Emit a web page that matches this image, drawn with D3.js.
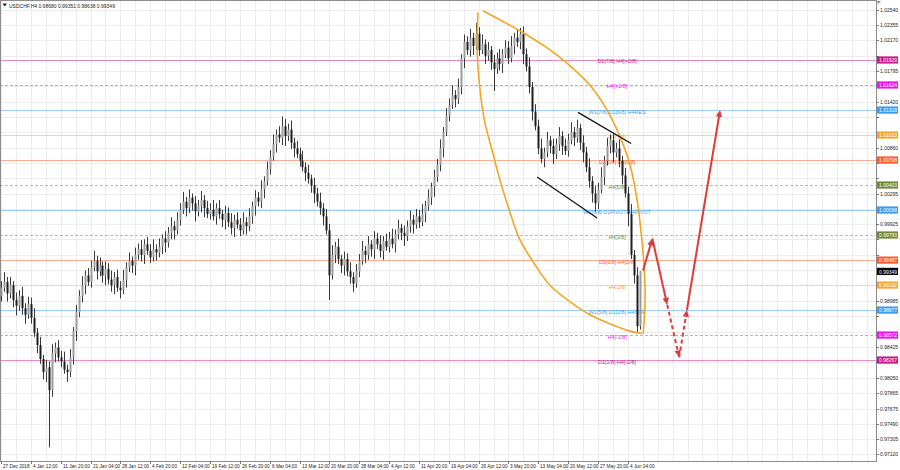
<!DOCTYPE html>
<html><head><meta charset="utf-8">
<script src="https://cdn.jsdelivr.net/npm/d3@7/dist/d3.min.js"></script>
<style>body{margin:0;background:#fff;} svg{display:block;font-family:"Liberation Sans",Arial,sans-serif;}</style>
</head><body><svg id="c" width="900" height="470"></svg>
<script>
// ---------------- DATA ----------------
const symbol = "USDCHF,H4";
const headerOHLC = ["0.98680", "0.99351", "0.98638", "0.99349"];
const firstOpen = 0.9905;
const closes = [
0.9915,0.9922,0.9908,0.9918,0.9900,0.9893,0.9905,0.9890,0.9882,0.9895,
0.9878,0.9860,0.9845,0.9828,0.9812,0.9818,0.9790,0.9835,0.9842,0.9830,
0.9825,0.9815,0.9812,0.9830,0.9862,0.9885,0.9905,0.9918,0.9930,0.9922,
0.9940,0.9948,0.9935,0.9942,0.9930,0.9938,0.9925,0.9918,0.9928,0.9915,
0.9912,0.9925,0.9940,0.9948,0.9942,0.9955,0.9962,0.9955,0.9968,0.9960,
0.9952,0.9962,0.9958,0.9965,0.9975,0.9970,0.9982,0.9990,0.9985,0.9998,
1.0010,1.0020,1.0012,1.0025,1.0018,1.0008,1.0015,1.0022,1.0012,1.0005,
1.0010,1.0002,1.0012,1.0005,0.9998,1.0006,0.9995,0.9988,0.9998,0.9992,
0.9985,0.9995,0.9990,1.0002,1.0015,1.0025,1.0020,1.0035,1.0045,1.0060,
1.0075,1.0090,1.0102,1.0098,1.0112,1.0100,1.0108,1.0092,1.0085,1.0078,
1.0070,1.0062,1.0055,1.0048,1.0040,1.0030,1.0020,1.0012,1.0002,0.9985,
0.9930,0.9955,0.9965,0.9950,0.9942,0.9950,0.9935,0.9928,0.9920,0.9935,
0.9948,0.9960,0.9955,0.9968,0.9962,0.9975,0.9968,0.9960,0.9972,0.9965,
0.9975,0.9968,0.9980,0.9988,0.9982,0.9978,0.9990,0.9998,0.9992,1.0002,
0.9995,1.0005,1.0015,1.0025,1.0038,1.0050,1.0065,1.0085,1.0105,1.0125,
1.0138,1.0150,1.0145,1.0160,1.0195,1.0215,1.0205,1.0220,1.0210,1.0225,
1.0205,1.0212,1.0198,1.0205,1.0190,1.0182,1.0195,1.0188,1.0200,1.0208,
1.0195,1.0210,1.0220,1.0215,1.0225,1.0200,1.0185,1.0160,1.0130,1.0112,
1.0085,1.0072,1.0080,1.0095,1.0088,1.0078,1.0090,1.0100,1.0088,1.0082,
1.0095,1.0105,1.0098,1.0110,1.0092,1.0080,1.0062,1.0045,1.0030,1.0018,
1.0035,1.0050,1.0070,1.0088,1.0095,1.0080,1.0085,1.0070,1.0052,1.0030,
1.0005,0.9955,0.9930,0.9868,0.99349];
const highs = [
0.9923,0.9934,0.9928,0.9928,0.9923,0.9909,0.9912,0.9916,0.9896,0.9904,
0.9903,0.9890,0.9866,0.9855,0.9833,0.9827,0.9825,0.9846,0.9848,0.9851,
0.9838,0.9837,0.9821,0.9840,0.9867,0.9894,0.9912,0.9929,0.9936,0.9939,
0.9948,0.9960,0.9954,0.9952,0.9947,0.9947,0.9945,0.9936,0.9934,0.9937,
0.9923,0.9937,0.9946,0.9958,0.9953,0.9964,0.9969,0.9973,0.9974,0.9977,
0.9968,0.9974,0.9968,0.9975,0.9980,0.9984,0.9989,1.0001,0.9996,1.0007,
1.0018,1.0032,1.0026,1.0035,1.0030,1.0027,1.0022,1.0033,1.0028,1.0021,
1.0018,1.0022,1.0018,1.0022,1.0010,1.0015,1.0013,1.0006,1.0004,1.0007,
1.0000,1.0007,1.0001,1.0012,1.0020,1.0034,1.0032,1.0046,1.0051,1.0069,
1.0083,1.0102,1.0108,1.0112,1.0124,1.0121,1.0115,1.0119,1.0098,1.0094,
1.0086,1.0082,1.0068,1.0065,1.0053,1.0049,1.0037,1.0031,1.0018,1.0011,
0.9993,0.9967,0.9971,0.9975,0.9955,0.9959,0.9957,0.9946,0.9934,0.9944,
0.9956,0.9972,0.9966,0.9978,0.9973,0.9984,0.9982,0.9979,0.9978,0.9981,
0.9983,0.9987,0.9986,0.9998,0.9993,0.9991,0.9997,1.0009,1.0004,1.0011,
1.0010,1.0017,1.0021,1.0035,1.0043,1.0059,1.0072,1.0096,1.0111,1.0134,
1.0146,1.0162,1.0156,1.0170,1.0200,1.0224,1.0222,1.0231,1.0226,1.0238,
1.0233,1.0224,1.0218,1.0215,1.0210,1.0199,1.0202,1.0206,1.0206,1.0217,
1.0216,1.0222,1.0226,1.0230,1.0232,1.0234,1.0207,1.0196,1.0166,1.0139,
1.0120,1.0097,1.0086,1.0105,1.0100,1.0097,1.0097,1.0111,1.0106,1.0097,
1.0103,1.0117,1.0111,1.0120,1.0115,1.0101,1.0087,1.0073,1.0051,1.0039,
1.0043,1.0062,1.0076,1.0098,1.0102,1.0104,1.0092,1.0096,1.0076,1.0061,
1.0038,1.0017,0.9961,0.9940,0.99351];
const lows = [
0.9898,0.9910,0.9898,0.9902,0.9891,0.9881,0.9887,0.9882,0.9871,0.9877,
0.9871,0.9855,0.9835,0.9822,0.9803,0.9800,0.9720,0.9782,0.9824,0.9825,
0.9818,0.9810,0.9800,0.9806,0.9821,0.9850,0.9879,0.9897,0.9907,0.9917,
0.9915,0.9935,0.9925,0.9929,0.9921,0.9918,0.9919,0.9910,0.9907,0.9910,
0.9902,0.9907,0.9915,0.9934,0.9933,0.9930,0.9949,0.9947,0.9944,0.9955,
0.9945,0.9947,0.9948,0.9952,0.9956,0.9958,0.9964,0.9974,0.9974,0.9980,
0.9991,1.0005,1.0002,1.0006,1.0009,0.9996,1.0002,1.0007,1.0001,1.0000,
0.9998,0.9997,0.9992,0.9999,0.9989,0.9986,0.9989,0.9980,0.9977,0.9987,
0.9978,0.9980,0.9980,0.9984,0.9993,1.0003,1.0014,1.0012,1.0024,1.0040,
1.0053,1.0070,1.0080,1.0092,1.0089,1.0088,1.0094,1.0084,1.0074,1.0073,
1.0063,1.0057,1.0045,1.0042,1.0031,1.0018,1.0014,1.0004,0.9991,0.9980,
0.9900,0.9925,0.9945,0.9944,0.9933,0.9930,0.9929,0.9920,0.9910,0.9915,
0.9928,0.9943,0.9945,0.9949,0.9953,0.9950,0.9962,0.9952,0.9949,0.9960,
0.9958,0.9963,0.9958,0.9974,0.9973,0.9966,0.9972,0.9982,0.9981,0.9987,
0.9988,0.9990,0.9995,1.0009,1.0016,1.0026,1.0044,1.0057,1.0074,1.0100,
1.0118,1.0133,1.0135,1.0139,1.0151,1.0183,1.0199,1.0197,1.0199,1.0205,
1.0198,1.0200,1.0188,1.0192,1.0181,1.0155,1.0176,1.0180,1.0177,1.0195,
1.0188,1.0190,1.0200,1.0209,1.0206,1.0188,1.0179,1.0152,1.0119,1.0107,
1.0078,1.0067,1.0062,1.0074,1.0079,1.0066,1.0072,1.0082,1.0077,1.0077,
1.0075,1.0090,1.0088,1.0092,1.0083,1.0068,1.0056,1.0037,1.0019,1.0008,
1.0011,1.0030,1.0040,1.0064,1.0079,1.0068,1.0074,1.0062,1.0041,1.0025,
0.9990,0.9950,0.9920,0.9860,0.98638];

const timeLabels = ["27 Dec 2018","4 Jan 12:00","11 Jan 20:00","21 Jan 04:00","28 Jan 12:00","4 Feb 20:00",
  "12 Feb 04:00","19 Feb 12:00","26 Feb 20:00","6 Mar 04:00","13 Mar 12:00","20 Mar 20:00","28 Mar 04:00",
  "4 Apr 12:00","11 Apr 20:00","19 Apr 04:00","26 Apr 12:00","3 May 20:00","13 May 04:00","20 May 12:00",
  "27 May 20:00","4 Jun 04:00"];
const candlesPerLabel = 10;

const priceTicks = [1.02540,1.02355,1.02170,1.01980,1.01795,1.01610,1.01420,1.01230,1.01045,1.00860,
  1.00675,1.00485,1.00295,1.00110,0.99925,0.99740,0.99550,0.99365,0.99180,0.98985,0.98800,0.98615,
  0.98425,0.98240,0.98050,0.97865,0.97675,0.97490,0.97305,0.97120];

const levelValues = [1.01929,1.01624,1.01318,1.01013,1.00708,1.00403,1.00098,0.99793,0.99487,0.99182,0.98877,0.98572,0.98267];
const levelNames = ["D1[7/8] H4[+2/8]","H4[+1/8]","W1[7/8] D1[6/8] H4RES","H4[7/8]","D1[5/8] H4[6/8]","H4[5/8]",
  "W1[6/8] D1PIVOT H4PIVOT","H4[3/8]","D1[3/8] H4[2/8]","H4[1/8]","W1[5/8] D1[2/8] H4SUP","H4[-1/8]","D1[1/8] H4[-2/8]"];
const levelColors = ["#c8188a","#f010f0","#3a9cf2","#f3a531","#ff5a28","#6f8a35","#3a9cf2","#6f8a35","#ff5a28","#f3a531","#3a9cf2","#f010f0","#c8188a"];
const levelDashed = [false,true,false,false,false,true,false,true,false,true,false,true,false];
const levelLabelPos = 206.4;
const currentPrice = 0.99349;

const ellipseLeft = [[159.8,1.0251],[159.5,1.0217],[159.8,1.0184],[161.8,1.0122],[164.5,1.0083],[167.2,1.0046],
  [170.5,1.0007],[173.9,0.9973],[178.9,0.9943],[183.9,0.9918],[190.6,0.9898],[197.3,0.9882],[204.0,0.9871],[210.7,0.9862],[214.7,0.9859]];
const ellipseRight = [[161.5,1.0253],[174.5,1.0227],[183.2,1.0207],[189.6,1.0189],[197.3,1.0162],[203.0,1.0132],
  [207.4,1.0099],[210.7,1.0065],[213.1,1.0022],[214.7,0.9973],[215.7,0.9924],[215.7,0.9888],[215.1,0.9859]];
const channelUpper = [[193.3,1.0129],[211.1,1.0091]];
const channelLower = [[179.6,1.0050],[199.7,1.0000]];
const forecast = [[215.1,0.9936],[218.2,0.9975],[223.2,0.9894],[227.2,0.9830],[229.8,0.9888],[240.9,1.0132]];
const forecastDashed = [false,false,true,true,false];

// ---------------- DRAW ----------------
const plotR = 876, plotB = 461;
const svg = d3.select("#c");
const x = d3.scaleLinear().domain([0,100]).range([1,299.5]);
const y = d3.scaleLinear().domain([0.97035,1.02661]).range([plotB,0]);

const grid = svg.append("g");
const maxIdx = x.invert(plotR);
for (let i = 0; i <= maxIdx; i += candlesPerLabel/2) {
  const gx = Math.round(x(i)) + 0.5;
  grid.append("line").attr("x1",gx).attr("x2",gx).attr("y1",0).attr("y2",plotB).attr("stroke","#ececec");
}
priceTicks.forEach(p=>{
  const gy = Math.round(y(p)) + 0.5;
  grid.append("line").attr("x1",0).attr("x2",plotR).attr("y1",gy).attr("y2",gy).attr("stroke","#ececec");
});

// level lines
const lv = svg.append("g");
levelValues.forEach((v,k)=>{
  const ly = Math.round(y(v)) + 0.5;
  lv.append("line").attr("x1",0).attr("x2",plotR).attr("y1",ly).attr("y2",ly)
    .attr("stroke",levelColors[k]).attr("stroke-opacity",0.5).attr("stroke-width",1)
    .attr("stroke-dasharray",levelDashed[k]?"3,2":null);
});

// candles
const cg = svg.append("g");
closes.forEach((c,i)=>{
  const o = i ? closes[i-1] : firstOpen;
  const cx = Math.round(x(i)) + 0.5;
  cg.append("line").attr("x1",cx).attr("x2",cx).attr("y1",y(highs[i])).attr("y2",y(lows[i]))
    .attr("stroke","#3a3a3a").attr("stroke-width",1);
  const top = y(Math.max(o,c)), bot = y(Math.min(o,c));
  cg.append("rect").attr("x",cx-1).attr("y",top).attr("width",2).attr("height",Math.max(0.8,bot-top))
    .attr("fill", c>=o ? "#9c9c9c" : "#1e1e1e");
});

// level labels on chart
levelValues.forEach((v,k)=>{
  lv.append("text").attr("x",x(levelLabelPos)).attr("y",y(v)+1.5).attr("text-anchor","middle")
    .attr("dominant-baseline","central").attr("font-size",5.4).attr("fill",levelColors[k]).text(levelNames[k]);
});

// ellipse
const curve = d3.line().x(d=>x(d[0])).y(d=>y(d[1])).curve(d3.curveCatmullRom.alpha(0.5));
[ellipseLeft, ellipseRight].forEach(pts=>{
  svg.append("path").attr("d",curve(pts)).attr("fill","none").attr("stroke","#f2a623").attr("stroke-width",1.6);
});

// channel
const straight = d3.line().x(d=>x(d[0])).y(d=>y(d[1]));
[channelUpper, channelLower].forEach(pts=>{
  svg.append("path").attr("d",straight(pts)).attr("fill","none").attr("stroke","#111").attr("stroke-width",1.3);
});

// forecast arrows
const red = "#e03a3a";
for (let s = 0; s < forecast.length-1; s++) {
  const a = [x(forecast[s][0]), y(forecast[s][1])], b = [x(forecast[s+1][0]), y(forecast[s+1][1])];
  const dx = b[0]-a[0], dy = b[1]-a[1], len = Math.hypot(dx,dy), ux = dx/len, uy = dy/len;
  const hl = 7, hw = 3.2;
  const e = [b[0]-ux*hl*0.8, b[1]-uy*hl*0.8];
  svg.append("line").attr("x1",a[0]).attr("y1",a[1]).attr("x2",e[0]).attr("y2",e[1])
    .attr("stroke",red).attr("stroke-width",2).attr("stroke-dasharray",forecastDashed[s]?"4,3":null);
  const bx = b[0]-ux*hl, by = b[1]-uy*hl;
  svg.append("path").attr("d",`M${b[0]},${b[1]}L${bx-uy*hw},${by+ux*hw}L${bx+uy*hw},${by-ux*hw}Z`).attr("fill",red);
}

// frame
svg.append("rect").attr("x",0.5).attr("y",0.5).attr("width",plotR).attr("height",plotB).attr("fill","none").attr("stroke","#8c8c8c");

// price axis
const ax = svg.append("g");
const boxes = levelValues.map((v,k)=>({v, col: levelColors[k]})).concat([{v: currentPrice, col: "#000"}]);
priceTicks.forEach(p=>{
  ax.append("line").attr("x1",plotR).attr("x2",plotR+3).attr("y1",Math.round(y(p))+0.5).attr("y2",Math.round(y(p))+0.5).attr("stroke","#777");
  const covered = boxes.some(b=>Math.abs(y(b.v)-y(p))<7.5);
  if (!covered)
    ax.append("text").attr("x",880).attr("y",y(p)).attr("dominant-baseline","central").attr("font-size",5).attr("fill","#222").text(p.toFixed(5));
});
boxes.forEach(b=>{
  const by = y(b.v);
  ax.append("rect").attr("x",877).attr("y",by-3.6).attr("width",21).attr("height",7.2).attr("fill",b.col);
  ax.append("text").attr("x",879).attr("y",by+0.2).attr("dominant-baseline","central").attr("font-size",5).attr("fill","#fff").text(b.v.toFixed(5));
});

// time axis
timeLabels.forEach((t,k)=>{
  const tx = Math.round(x(k*candlesPerLabel))+0.5;
  svg.append("line").attr("x1",tx).attr("x2",tx).attr("y1",plotB).attr("y2",plotB+3).attr("stroke","#777");
  svg.append("text").attr("x",tx+1.5).attr("y",467.5).attr("font-size",4.7).attr("fill","#222").text(t);
});

// header
svg.append("path").attr("d","M2.5,3.5L7,3.5L4.75,6.5Z").attr("fill","#222");
svg.append("text").attr("x",9).attr("y",7.5).attr("font-size",5).attr("fill","#222")
  .text(symbol + "  " + headerOHLC.join(" "));
svg.append("path").attr("d","M876,1L881,1L878.5,4Z").attr("fill","#999");
</script></body></html>
